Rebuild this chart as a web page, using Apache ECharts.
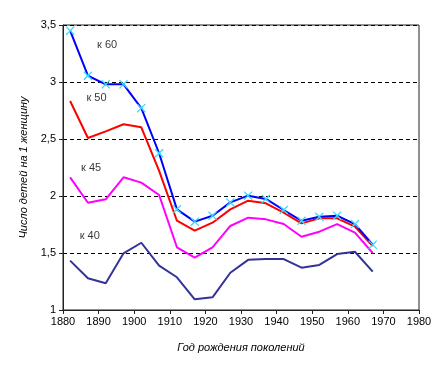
<!DOCTYPE html>
<html><head><meta charset="utf-8">
<script src="https://cdn.jsdelivr.net/npm/echarts@6/dist/echarts.min.js"></script>
<style>html,body{margin:0;padding:0;background:#fff}#c{width:448px;height:374px}</style>
</head><body><div id="c"></div>
<script>
var years = [1882,1887,1892,1897,1902,1907,1912,1917,1922,1927,1932,1937,1942,1947,1952,1957,1962,1967];
var k60 = [3.45,3.055,2.98,2.98,2.77,2.375,1.883,1.775,1.827,1.944,2.003,1.974,1.877,1.783,1.818,1.827,1.754,1.573];
var k50 = [2.833,2.509,2.567,2.629,2.603,2.22,1.783,1.696,1.766,1.883,1.959,1.936,1.854,1.76,1.804,1.804,1.731,1.561];
var k45 = [2.164,1.941,1.971,2.164,2.117,2.009,1.55,1.459,1.55,1.737,1.81,1.795,1.754,1.643,1.687,1.754,1.678,1.50];
var k40 = [1.433,1.278,1.234,1.497,1.59,1.389,1.287,1.094,1.111,1.327,1.44,1.447,1.447,1.371,1.395,1.491,1.511,1.336];
var seriesNames = ['к 60','к 50','к 45','к 40'];
var labelPos = [[1892.4,3.325],[1889.4,2.86],[1887.9,2.25],[1887.5,1.65]];
var xTitle = 'Год рождения поколений';
var yTitle = 'Число детей на 1 женщину';

function pairs(v){ return years.map(function(y,i){return [y,v[i]];}); }
var font = 'Liberation Sans, Arial, sans-serif';
var xMark = 'path://M0,1L1,0L5,4L9,0L10,1L6,5L10,9L9,10L5,6L1,10L0,9L4,5Z';

var chart = echarts.init(document.getElementById('c'));
chart.setOption({
  animation:false,
  backgroundColor:'#fff',
  grid:{left:63,right:29,top:25,bottom:64,show:true,borderColor:'#222',borderWidth:1,backgroundColor:'transparent'},
  xAxis:{type:'value',min:1880,max:1980,interval:10,
    name:xTitle,nameLocation:'middle',nameGap:32,
    nameTextStyle:{fontFamily:font,fontSize:11,fontStyle:'italic',color:'#000'},
    axisLine:{show:true,lineStyle:{color:'#222',width:1}},
    axisTick:{show:true,length:4,lineStyle:{color:'#222'}},
    axisLabel:{fontFamily:font,fontSize:11,color:'#000',margin:6,
      formatter:function(v){return String(v);}},
    splitLine:{show:false}},
  yAxis:{type:'value',min:1,max:3.5,interval:0.5,
    name:yTitle,nameLocation:'middle',nameGap:32,
    nameTextStyle:{fontFamily:font,fontSize:11,fontStyle:'italic',color:'#000'},
    axisLine:{show:true,lineStyle:{color:'#222',width:1}},
    axisTick:{show:true,length:4,lineStyle:{color:'#222'}},
    axisLabel:{fontFamily:font,fontSize:11,color:'#000',margin:7,
      formatter:function(v){return String(v).replace('.',',');}},
    splitLine:{show:true,lineStyle:{color:'#000',type:[4,3],width:1}}},
  series:[
    {name:seriesNames[3],type:'line',data:pairs(k40),showSymbol:false,symbol:'none',lineStyle:{color:'#333399',width:2},z:2},
    {name:seriesNames[2],type:'line',data:pairs(k45),showSymbol:false,symbol:'none',lineStyle:{color:'#ff00ff',width:2},z:3},
    {name:seriesNames[1],type:'line',data:pairs(k50),showSymbol:false,symbol:'none',lineStyle:{color:'#ff0000',width:2},z:4},
    {name:seriesNames[0],type:'line',data:pairs(k60),symbol:xMark,symbolSize:9,showSymbol:true,
      itemStyle:{color:'#33ddff'},lineStyle:{color:'#0000ff',width:2},z:5},
    {type:'scatter',silent:true,symbolSize:0,z:6,
      data:seriesNames.map(function(n,i){return {value:labelPos[i],name:n};}),
      label:{show:true,position:'inside',formatter:function(p){return p.name;},
        fontFamily:font,fontSize:11,color:'#000'}}
  ]
});
</script></body></html>
